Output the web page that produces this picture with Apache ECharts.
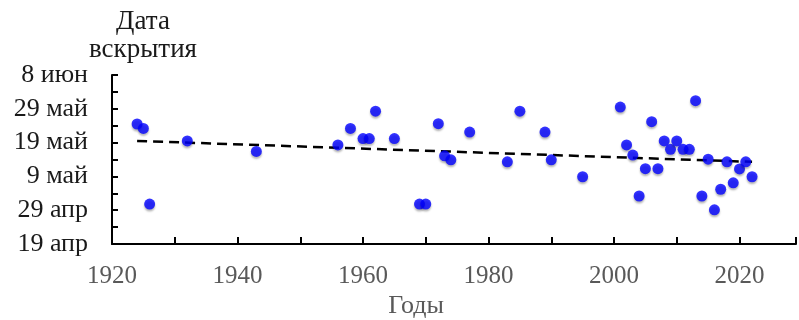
<!DOCTYPE html>
<html>
<head>
<meta charset="utf-8">
<script src="https://cdn.jsdelivr.net/npm/echarts@6/dist/echarts.min.js"></script>
<style>
  html, body { margin: 0; padding: 0; background: #fff; }
  #chart { width: 799px; height: 320px; }
</style>
</head>
<body>
<div id="chart"></div>
<script>
// years of observation
const years = [1924, 1925, 1926, 1932, 1943, 1956, 1958, 1960, 1961, 1962, 1965, 1969, 1970,
  1972, 1973, 1974, 1977, 1983, 1985, 1989, 1990, 1995,
  2001, 2002, 2003, 2004, 2005, 2006, 2007, 2008, 2009, 2010, 2011, 2012, 2013, 2014,
  2015, 2016, 2017, 2018, 2019, 2020, 2021, 2022];
// ice break-up date, days after 19 April
const breakDays = [35.5, 34.2, 11.8, 30.5, 27.4, 29.3, 34.2, 31.2, 31.2, 39.3, 31.2, 11.8, 11.8,
  35.6, 26.1, 24.9, 33.1, 24.3, 39.3, 33.1, 24.9, 19.9,
  40.5, 29.3, 26.3, 14.2, 22.3, 36.2, 22.3, 30.5, 28, 30.5, 28, 28, 42.4, 14.2,
  25.1, 10.1, 16.2, 24.3, 18.1, 22.2, 24.3, 19.9];
// linear trend end points
const trendYears = [1924, 2022];
const trendDays = [30.5, 24.3];
// y tick labels, one per 10 days
const dayLabels = ['19 апр', '29 апр', '9 май', '19 май', '29 май', '8 июн'];

const font = '"Liberation Serif", "Times New Roman", serif';

const chart = echarts.init(document.getElementById('chart'));

chart.setOption({
  animation: false,
  grid: { left: 112, right: 1, top: 75, bottom: 76 },
  xAxis: {
    type: 'value',
    min: 1920,
    max: 2029,
    interval: 10,
    splitLine: { show: false },
    axisLine: { lineStyle: { color: '#000', width: 2 } },
    axisTick: { inside: true, length: 7, lineStyle: { color: '#000', width: 2 } },
    axisLabel: {
      margin: 20,
      color: '#595959',
      fontFamily: font,
      fontSize: 25,
      formatter: v => (v % 20 === 0 && v <= 2020 ? String(v) : '')
    }
  },
  yAxis: {
    type: 'value',
    min: 0,
    max: 50,
    interval: 5,
    splitLine: { show: false },
    axisLine: { show: true, lineStyle: { color: '#000', width: 2 } },
    axisTick: { show: true, inside: true, length: 6, lineStyle: { color: '#000', width: 2 } },
    axisLabel: {
      margin: 24,
      color: '#1a1a1a',
      fontFamily: font,
      fontSize: 26,
      formatter: v => (v % 10 === 0 ? dayLabels[v / 10] : '')
    }
  },
  graphic: [
    {
      type: 'text',
      x: 143,
      y: 8,
      style: {
        text: 'Дата\nвскрытия',
        align: 'center',
        fill: '#1a1a1a',
        font: '27px ' + font,
        lineHeight: 28
      }
    },
    {
      type: 'text',
      x: 416,
      y: 293,
      style: {
        text: 'Годы',
        align: 'center',
        fill: '#595959',
        font: '26px ' + font
      }
    }
  ],
  series: [
    {
      type: 'line',
      data: trendYears.map((y, i) => [y, trendDays[i]]),
      symbol: 'none',
      lineStyle: { color: '#000', width: 2.5, type: [10, 6] },
      z: 1
    },
    {
      type: 'scatter',
      data: years.map((y, i) => [y, breakDays[i]]),
      symbolSize: 11,
      itemStyle: {
        color: '#0000ff',
        shadowColor: 'rgba(0,0,0,0.35)',
        shadowBlur: 2,
        shadowOffsetY: 2
      },
      z: 2
    }
  ]
});
</script>
</body>
</html>
